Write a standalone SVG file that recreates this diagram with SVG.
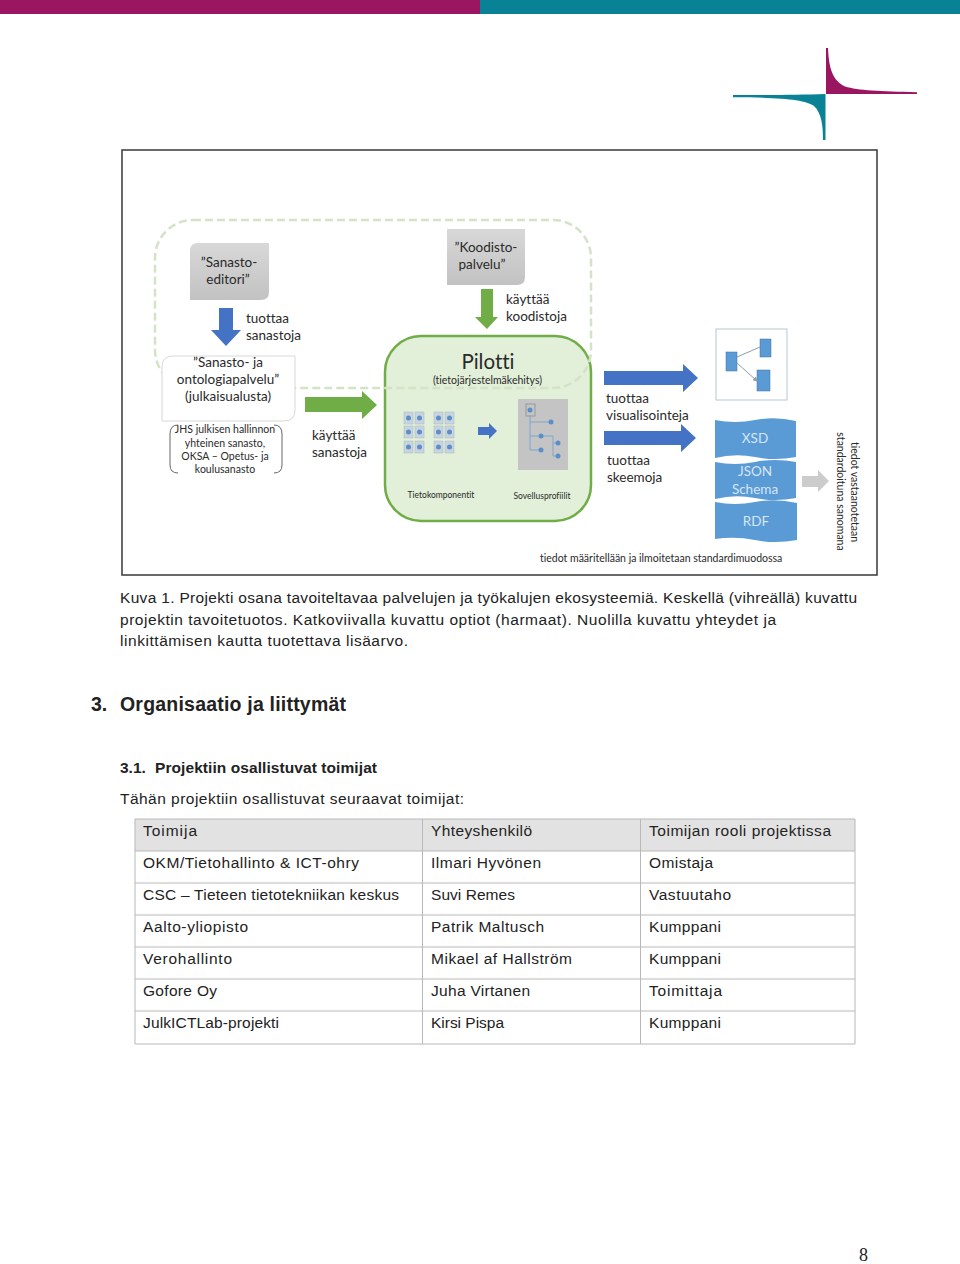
<svg xmlns="http://www.w3.org/2000/svg" width="960" height="1264" viewBox="0 0 960 1264">
<style>
.s{font-family:Lato,"Liberation Sans",sans-serif;fill:#2a2a2a;font-variant-ligatures:none}
.d{font-family:"Liberation Sans",sans-serif;fill:#222;font-size:15.5px}
.b{font-weight:bold;font-size:15.5px}
.tl{stroke:#b8b8b8;stroke-width:1;fill:none}
.w{fill:#5b9bd5}
.wt{font-family:Lato,"Liberation Sans",sans-serif;fill:#d5e6f5;font-size:13.500px;text-anchor:middle}
.c{font-size:13.500px;text-anchor:middle}
.l{font-size:13.500px}
.cell{fill:#c9d4df;stroke:#a9b7c4;stroke-width:.5}
.dot{fill:#5b8fc9}
.tr{fill:none;stroke:#7fa6d0;stroke-width:1}
</style>
<defs>
<linearGradient id="g" x1="0" y1="0" x2="0" y2="1"><stop offset="0" stop-color="#d8d8d8"/><stop offset="1" stop-color="#c2c2c2"/></linearGradient>
<g id="comp"><rect class="cell" width="9" height="12"/><circle class="dot" cx="4.500" cy="6" r="2.500"/></g>
<marker id="mini" markerWidth="5" markerHeight="5" refX="4" refY="2.500" orient="auto"><path d="M0 0L5 2.500L0 5Z" fill="#8b9dae"/></marker>
</defs>
<rect width="960" height="1264" fill="#fff"/>
<rect width="480" height="14" fill="#9a1660"/>
<rect x="480" width="480" height="14" fill="#0a8296"/>
<g id="logo">
<path d="M826 94V48H828C829 68 832 80 845 86.500C858 90.500 880 91.300 917 92.200V94Z" fill="#9a1660"/>
<path d="M825.500 94V140H823C823 125 821.500 113 814 106C805 99.500 780 97.500 733 97.300V95C770 95 800 95 825.500 94Z" fill="#0a8296"/>
</g>
<rect x="122" y="150" width="755" height="425" fill="#fff" stroke="#444" stroke-width="1.600"/>
<g id="pilotti"><rect x="385" y="336" width="206" height="185" rx="36" fill="#e2efd9" stroke="#70ad47" stroke-width="2.500"/>
<text class="s" x="488" y="369" font-size="20.500" text-anchor="middle" fill="#222">Pilotti</text>
<text class="s" x="487.500" y="384" font-size="10.500" text-anchor="middle">(tietojärjestelmäkehitys)</text>
<use href="#comp" x="404" y="412"/><use href="#comp" x="415" y="412"/><use href="#comp" x="404" y="426"/><use href="#comp" x="415" y="426"/><use href="#comp" x="404" y="441"/><use href="#comp" x="415" y="441"/>
<use href="#comp" x="434" y="412"/><use href="#comp" x="445" y="412"/><use href="#comp" x="434" y="426"/><use href="#comp" x="445" y="426"/><use href="#comp" x="434" y="441"/><use href="#comp" x="445" y="441"/>
<path d="M478 427H489V423L497 431L489 439V435H478Z" fill="#4472c4"/>
<rect x="518" y="399" width="50" height="71" fill="#c4c4c4"/>
<path class="tr" d="M530 415V450H541M530 422H550M530 436H541M541 436H553V456H558M553 443H558"/>
<rect x="526" y="404" width="9" height="12" fill="none" stroke="#999"/>
<g class="dot"><circle cx="530" cy="410" r="2.500"/><circle cx="551" cy="422" r="2.500"/><circle cx="541" cy="436" r="2.500"/><circle cx="541" cy="450" r="2.500"/><circle cx="558" cy="443" r="2.500"/><circle cx="558" cy="456" r="2.500"/></g>
<text class="s" x="441" y="498" font-size="8.500" text-anchor="middle">Tietokomponentit</text>
<text class="s" x="542" y="499" font-size="8.500" text-anchor="middle">Sovellusprofiilit</text></g>
<g id="optional-area"><rect x="155" y="220" width="436" height="168" rx="38" fill="none" stroke="#d3e3c8" stroke-width="2.500" stroke-dasharray="8 4"/></g>
<g id="connectors">
<path d="M219 308H233V330H241L226 346L211 330H219Z" fill="#4472c4"/>
<path d="M481 289H493V317H498L487 329L475 317H481Z" fill="#70ad47"/>
<path d="M305 397H362V391L377 405L362 419V412H305Z" fill="#70ad47"/>
<path d="M604 371H683V364L698 378L683 392V385H604Z" fill="#4472c4"/>
<path d="M604 431H681V424L696 438L681 452V445H604Z" fill="#4472c4"/>
<path d="M802 476H818V470L829 481L818 492V487H802Z" fill="#ccc"/>
</g>
<g id="sanastoeditori"><path d="M198 243H269V292Q269 300 261 300H190V251Q190 243 198 243Z" fill="url(#g)"/><text class="s c" x="229" y="267">”Sanasto-</text><text class="s c" x="228" y="284">editori”</text></g>
<g id="koodistopalvelu"><path d="M447 229H525V277Q525 285 517 285H447Z" fill="url(#g)"/><text class="s c" x="486" y="252">”Koodisto-</text><text class="s c" x="482" y="269">palvelu”</text></g>
<g id="julkaisualusta"><path d="M173 356H295V410Q295 421 284 421H162V367Q162 356 173 356Z" fill="#fff" stroke="#d8d8d8"/><text class="s c" x="228" y="367">”Sanasto- ja</text><text class="s c" x="228" y="384">ontologiapalvelu”</text><text class="s c" x="228" y="401">(julkaisualusta)</text></g>
<g id="sanastot"><path d="M178 425Q170 425 170 434V465Q170 473 178 473M274 425Q282 425 282 434V465Q282 473 274 473" fill="none" stroke="#666"/>
<g class="s" font-size="10.500" text-anchor="middle"><text x="225" y="433">JHS julkisen hallinnon</text><text x="225" y="447">yhteinen sanasto,</text><text x="225" y="460">OKSA – Opetus- ja</text><text x="225" y="473">koulusanasto</text></g></g>
<g id="visualisointi"><rect x="716" y="329" width="71" height="71" fill="#fff" stroke="#b9c6d3"/>
<rect x="726" y="352" width="11" height="19" class="w" stroke="#41719c" stroke-width=".5"/><rect x="760" y="339" width="11" height="18" class="w" stroke="#41719c" stroke-width=".5"/><rect x="757" y="370" width="13" height="21" class="w" stroke="#41719c" stroke-width=".5"/>
<path d="M737 357L760 347M737 363L757 381" stroke="#8b9dae" fill="none" marker-end="url(#mini)"/></g>
<g id="xsd"><path class="w" d="M715 420Q735 424 755 420T796 421V457Q775 461 755 457T715 458Z"/><text class="wt" x="755" y="443">XSD</text></g>
<g id="json"><path class="w" d="M715 462Q735 466 755 462T796 462V498Q775 502 755 498T715 499Z"/><text class="wt" x="755" y="476">JSON</text><text class="wt" x="755" y="494">Schema</text></g>
<g id="rdf"><path class="w" d="M715 502Q735 506 755 502T797 503V540Q775 544 755 540T715 539Z"/><text class="wt" x="756" y="526">RDF</text></g>
<g class="s l"><text x="246" y="323">tuottaa</text><text x="246" y="340">sanastoja</text><text x="506" y="304">käyttää</text><text x="506" y="321">koodistoja</text><text x="312" y="440">käyttää</text><text x="312" y="457">sanastoja</text><text x="606" y="403">tuottaa</text><text x="606" y="420">visualisointeja</text><text x="607" y="465">tuottaa</text><text x="607" y="482">skeemoja</text></g>
<text class="s" x="540" y="562" font-size="10.500">tiedot määritellään ja ilmoitetaan standardimuodossa</text>
<text class="s" font-size="10.500" transform="translate(851 492) rotate(90)" text-anchor="middle">tiedot vastaanotetaan</text>
<text class="s" font-size="10.500" transform="translate(837 491.500) rotate(90)" text-anchor="middle">standardoituna sanomana</text>
<g class="d">
<text x="120" y="603" textLength="737">Kuva 1. Projekti osana tavoiteltavaa palvelujen ja työkalujen ekosysteemiä. Keskellä (vihreällä) kuvattu</text>
<text x="120" y="625" textLength="656">projektin tavoitetuotos. Katkoviivalla kuvattu optiot (harmaat). Nuolilla kuvattu yhteydet ja</text>
<text x="120" y="646" textLength="288">linkittämisen kautta tuotettava lisäarvo.</text>
<text x="91" y="711" font-weight="bold" style="font-size:19.500px">3.</text>
<text x="120" y="711" font-weight="bold" textLength="226" style="font-size:19.500px">Organisaatio ja liittymät</text>
<text class="b" x="120" y="773">3.1.</text>
<text class="b" x="155" y="773" textLength="222">Projektiin osallistuvat toimijat</text>
<text x="120" y="804" textLength="344">Tähän projektiin osallistuvat seuraavat toimijat:</text>
</g>
<g id="table">
<rect x="135" y="819" width="720" height="32" fill="#e2e2e2"/>
<path class="tl" d="M135 819H855M135 851H855M135 883H855M135 915H855M135 947H855M135 979H855M135 1011H855M135 1044H855M135 819V1044M422.500 819V1044M640.500 819V1044M855 819V1044"/>
<g class="d">
<text x="143" y="836" textLength="54">Toimija</text><text x="431" y="836" textLength="101">Yhteyshenkilö</text><text x="649" y="836" textLength="182">Toimijan rooli projektissa</text>
<text x="143" y="868" textLength="216">OKM/Tietohallinto &amp; ICT-ohry</text><text x="431" y="868" textLength="110">Ilmari Hyvönen</text><text x="649" y="868" textLength="64">Omistaja</text>
<text x="143" y="900" textLength="256">CSC – Tieteen tietotekniikan keskus</text><text x="431" y="900" textLength="84">Suvi Remes</text><text x="649" y="900" textLength="82">Vastuutaho</text>
<text x="143" y="932" textLength="105">Aalto-yliopisto</text><text x="431" y="932" textLength="113">Patrik Maltusch</text><text x="649" y="932" textLength="72">Kumppani</text>
<text x="143" y="964" textLength="89">Verohallinto</text><text x="431" y="964" textLength="141">Mikael af Hallström</text><text x="649" y="964" textLength="72">Kumppani</text>
<text x="143" y="996" textLength="74">Gofore Oy</text><text x="431" y="996" textLength="99">Juha Virtanen</text><text x="649" y="996" textLength="73">Toimittaja</text>
<text x="143" y="1028" textLength="136">JulkICTLab-projekti</text><text x="431" y="1028" textLength="73">Kirsi Pispa</text><text x="649" y="1028" textLength="72">Kumppani</text>
</g></g>
<text x="859" y="1261" font-family="'Liberation Serif',serif" font-size="18" fill="#222">8</text>
</svg>
